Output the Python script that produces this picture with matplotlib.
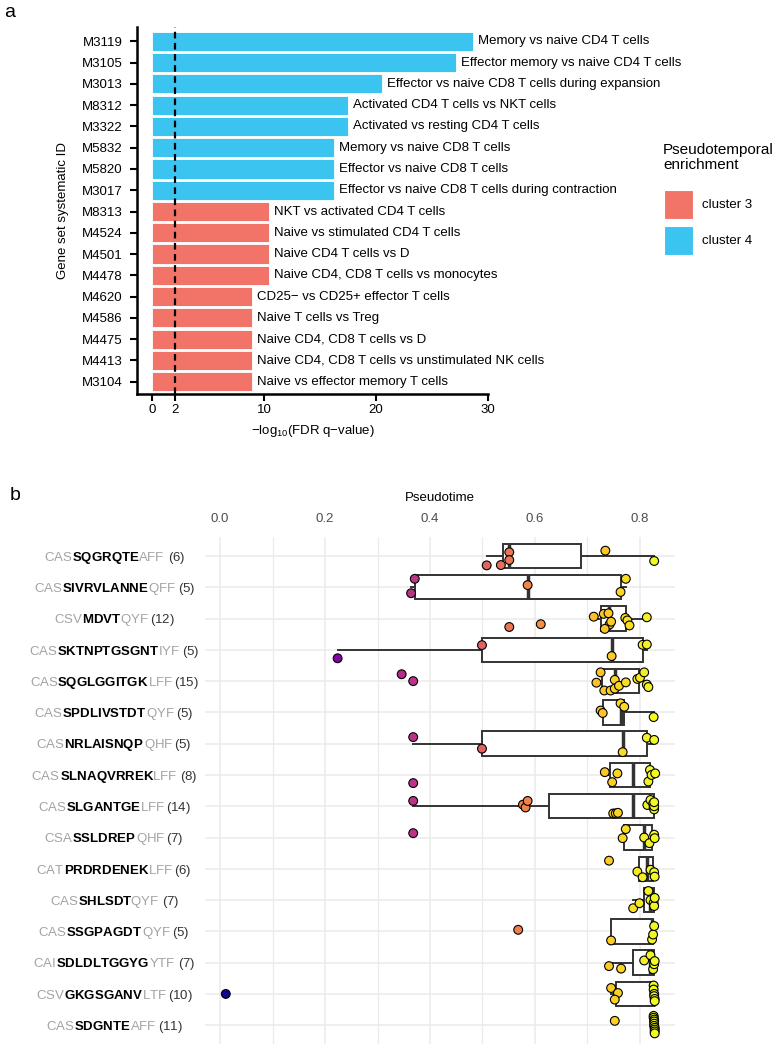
import matplotlib
matplotlib.use('Agg')
import matplotlib.pyplot as plt
import numpy as np
from matplotlib.patches import Rectangle
from matplotlib import transforms
from matplotlib.colors import Normalize
from matplotlib.mathtext import MathTextParser
from matplotlib.font_manager import FontProperties

plt.rcParams['font.family'] = ['Liberation Sans', 'DejaVu Sans']
plt.rcParams['mathtext.fontset'] = 'custom'
plt.rcParams['mathtext.rm'] = 'Liberation Sans'
plt.rcParams['mathtext.it'] = 'Liberation Sans:italic'
plt.rcParams['mathtext.bf'] = 'Liberation Sans:bold'
plt.rcParams['mathtext.default'] = 'regular'

# ---------------- Panel a data ----------------
gene_ids = ['M3119', 'M3105', 'M3013', 'M8312', 'M3322', 'M5832', 'M5820', 'M3017',
            'M8313', 'M4524', 'M4501', 'M4478', 'M4620', 'M4586', 'M4475', 'M4413', 'M3104']
neglog_fdr = [28.7, 27.1, 20.5, 17.5, 17.5, 16.2, 16.2, 16.2,
              10.45, 10.45, 10.45, 10.45, 8.93, 8.93, 8.93, 8.93, 8.93]
descriptions = ['Memory vs naive CD4 T cells',
                'Effector memory vs naive CD4 T cells',
                'Effector vs naive CD8 T cells during expansion',
                'Activated CD4 T cells vs NKT cells',
                'Activated vs resting CD4 T cells',
                'Memory vs naive CD8 T cells',
                'Effector vs naive CD8 T cells',
                'Effector vs naive CD8 T cells during contraction',
                'NKT vs activated CD4 T cells',
                'Naive vs stimulated CD4 T cells',
                'Naive CD4 T cells vs D',
                'Naive CD4, CD8 T cells vs monocytes',
                'CD25\u2212 vs CD25+ effector T cells',
                'Naive T cells vs Treg',
                'Naive CD4, CD8 T cells vs D',
                'Naive CD4, CD8 T cells vs unstimulated NK cells',
                'Naive vs effector memory T cells']
clusters = ['cluster 4'] * 8 + ['cluster 3'] * 9
legend_levels = ['cluster 3', 'cluster 4']
cluster_colors = {'cluster 3': '#F27468', 'cluster 4': '#3BC4F0'}
fdr_threshold = 2

# ---------------- Panel b data ----------------
cdr3_prefix = ['CAS', 'CAS', 'CSV', 'CAS', 'CAS', 'CAS', 'CAS', 'CAS',
               'CAS', 'CSA', 'CAT', 'CAS', 'CAS', 'CAI', 'CSV', 'CAS']
cdr3_core = ['SQGRQTE', 'SIVRVLANNE', 'MDVT', 'SKTNPTGSGNT', 'SQGLGGITGK', 'SPDLIVSTDT',
             'NRLAISNQP', 'SLNAQVRREK', 'SLGANTGE', 'SSLDREP', 'PRDRDENEK', 'SHLSDT',
             'SSGPAGDT', 'SDLDLTGGYG', 'GKGSGANV', 'SDGNTE']
cdr3_suffix = ['AFF', 'QFF', 'QYF', 'IYF', 'LFF', 'QYF', 'QHF', 'LFF',
               'LFF', 'QHF', 'LFF', 'QYF', 'QYF', 'YTF', 'LTF', 'AFF']
clone_counts = [6, 5, 12, 5, 15, 5, 5, 8, 14, 7, 6, 7, 5, 7, 10, 11]

pseudotime = [
    [0.551, 0.551, 0.508, 0.535, 0.734, 0.827],
    [0.371, 0.364, 0.586, 0.773, 0.763],
    [0.712, 0.731, 0.740, 0.742, 0.733, 0.772, 0.776, 0.780, 0.813, 0.745, 0.551, 0.611],
    [0.224, 0.499, 0.746, 0.805, 0.813],
    [0.346, 0.368, 0.717, 0.725, 0.732, 0.744, 0.752, 0.752, 0.760, 0.773, 0.795, 0.800, 0.808, 0.813, 0.816],
    [0.725, 0.729, 0.763, 0.770, 0.826],
    [0.368, 0.499, 0.767, 0.813, 0.827],
    [0.368, 0.733, 0.747, 0.757, 0.816, 0.819, 0.822, 0.829],
    [0.368, 0.577, 0.582, 0.586, 0.749, 0.754, 0.758, 0.814, 0.820, 0.825, 0.826, 0.827, 0.827, 0.827],
    [0.368, 0.767, 0.773, 0.808, 0.818, 0.827, 0.828],
    [0.741, 0.795, 0.805, 0.820, 0.827, 0.828],
    [0.787, 0.799, 0.816, 0.820, 0.826, 0.827, 0.828],
    [0.568, 0.745, 0.823, 0.825, 0.827],
    [0.741, 0.764, 0.808, 0.820, 0.825, 0.827, 0.828],
    [0.011, 0.745, 0.758, 0.752, 0.826, 0.826, 0.827, 0.827, 0.828, 0.828],
    [0.752, 0.826, 0.826, 0.827, 0.827, 0.827, 0.827, 0.828, 0.828, 0.828, 0.828],
]
jitter_offsets = [
    [-0.12, 0.13, 0.30, 0.29, -0.17, 0.16],
    [-0.27, 0.19, -0.07, -0.27, 0.15],
    [-0.06, -0.15, -0.17, 0.19, 0.33, -0.02, 0.06, 0.22, -0.04, 0.10, 0.27, 0.18],
    [0.27, -0.15, 0.20, -0.16, -0.17],
    [-0.22, 0.0, 0.05, -0.28, 0.30, 0.30, -0.04, 0.24, 0.15, 0.04, -0.07, -0.11, -0.28, 0.11, 0.19],
    [-0.06, 0.02, -0.29, -0.18, 0.15],
    [-0.21, 0.16, 0.27, -0.19, -0.12],
    [0.26, -0.09, 0.23, -0.05, 0.21, -0.16, 0.0, -0.05],
    [-0.17, -0.05, 0.04, -0.17, 0.23, 0.23, 0.21, -0.04, -0.20, -0.08, 0.04, 0.10, 0.0, -0.13],
    [-0.14, 0.02, -0.27, 0.0, 0.18, -0.09, 0.02],
    [-0.26, 0.09, 0.27, 0.03, 0.11, 0.25],
    [0.26, 0.10, -0.29, 0.0, 0.09, 0.19, -0.07],
    [-0.05, 0.29, 0.26, 0.10, -0.17],
    [0.11, 0.19, -0.07, -0.24, 0.21, 0.05, -0.05],
    [0.0, -0.19, -0.03, 0.18, -0.27, -0.14, 0.0, 0.07, 0.16, 0.23],
    [-0.14, -0.30, -0.24, -0.18, -0.12, -0.05, 0.02, 0.08, 0.14, 0.20, 0.26],
]
pt_ticks = [0.0, 0.2, 0.4, 0.6, 0.8]

# ---------------- Figure ----------------
W, H = 778, 1050
DPI = 100
fig = plt.figure(figsize=(W / DPI, H / DPI), dpi=DPI)


def px_box(l, t, r, b):
    return [l / W, 1 - b / H, (r - l) / W, (b - t) / H]


# ---------------- Panel a ----------------
axA = fig.add_axes(px_box(137, 27.3, 488, 394))
ypos = np.arange(len(gene_ids))
bar_colors = [cluster_colors[c] for c in clusters]
axA.barh(ypos, neglog_fdr, height=0.9, color=bar_colors, edgecolor='white', linewidth=0.6)
axA.axvline(fdr_threshold, color='black', linestyle=(0, (3, 2)), linewidth=1.6, zorder=3)
for y, v, d in zip(ypos, neglog_fdr, descriptions):
    axA.annotate(d, (v, y), xytext=(3.6, 0), textcoords='offset points',
                 va='center', ha='left', fontsize=9.5, color='black', annotation_clip=False)
axA.set_xlim(-1.37, 30)
axA.set_ylim(len(gene_ids) - 1 + 0.58, -0.66)
axA.set_yticks(ypos)
axA.set_yticklabels(gene_ids)
axA.set_xticks([0, 2, 10, 20, 30])
axA.set_xticklabels(['0', '2', '10', '20', '30'])
for s in ['top', 'right']:
    axA.spines[s].set_visible(False)
for s in ['left', 'bottom']:
    axA.spines[s].set_linewidth(1.8)
axA.tick_params(axis='both', length=5, width=1.5, labelsize=9.5, colors='black')
axA.tick_params(axis='y', pad=5.5)
axA.tick_params(axis='x', pad=2.5)
axA.set_ylabel('Gene set systematic ID', fontsize=9.5, labelpad=9)
axA.set_xlabel('\u2212log$_{10}$(FDR q\u2212value)', fontsize=9.5, labelpad=5)

# legend (manual, ggplot-like keys)
fig.text(663 / W, 1 - 143 / H, 'Pseudotemporal\nenrichment', fontsize=11,
         va='top', ha='left', linespacing=1.1)
key_tops = [190, 226]
for lvl, kt in zip(legend_levels, key_tops):
    fig.add_artist(Rectangle((664 / W, 1 - (kt + 29) / H), 29 / W, 29 / H,
                             transform=fig.transFigure, facecolor=cluster_colors[lvl],
                             edgecolor='white', linewidth=0.8))
    fig.text(702 / W, 1 - (kt + 14.5) / H, lvl, fontsize=9.5, va='center', ha='left')

fig.text(4 / W, 1 - 17 / H, 'a', fontsize=14, va='baseline', ha='left')
fig.text(10 / W, 1 - 500 / H, 'b', fontsize=14, va='baseline', ha='left')

# ---------------- Panel b ----------------
axB = fig.add_axes(px_box(205, 537, 675, 1044))
nrow = len(cdr3_core)
rows = np.arange(nrow)

edge = '#333333'
axB.boxplot(pseudotime, positions=rows, orientation='horizontal', widths=0.78,
            showfliers=False, showcaps=False, patch_artist=True, manage_ticks=False,
            boxprops=dict(facecolor='white', edgecolor=edge, linewidth=1.4),
            medianprops=dict(color=edge, linewidth=2.5),
            whiskerprops=dict(color=edge, linewidth=1.4))

all_vals = np.concatenate([np.array(v) for v in pseudotime])
norm = Normalize(vmin=all_vals.min(), vmax=all_vals.max())
for i, (vals, offs) in enumerate(zip(pseudotime, jitter_offsets)):
    vals = np.array(vals)
    ys = i + np.array(offs)
    axB.scatter(vals, ys, c=vals, cmap='plasma', norm=norm, s=40,
                edgecolors='black', linewidths=0.8, zorder=4)

axB.set_xlim(-0.0286, 0.8667)
axB.set_ylim(nrow - 1 + 0.6, -0.607)
axB.set_axisbelow(True)
axB.set_xticks(pt_ticks)
axB.set_xticklabels(['%.1f' % t for t in pt_ticks])
axB.set_xticks([0.1, 0.3, 0.5, 0.7], minor=True)
axB.set_yticks(rows)
axB.set_yticklabels([''] * nrow)
axB.xaxis.tick_top()
axB.xaxis.set_label_position('top')
axB.set_xlabel('Pseudotime', fontsize=9.5, labelpad=8)
axB.tick_params(axis='x', which='both', length=0, pad=9, labelsize=9.5, labelcolor='#4d4d4d')
axB.tick_params(axis='y', length=0)
axB.grid(True, which='major', axis='both', color='#ebebeb', linewidth=1.1)
axB.grid(True, which='minor', axis='x', color='#ebebeb', linewidth=0.9)
for s in axB.spines.values():
    s.set_visible(False)

# multi-coloured CDR3 labels: mathtext segments placed by their advance widths,
# centred at x = 114 px
LABEL_FS = 9.5
trans = transforms.blended_transform_factory(fig.transFigure, axB.transData)
trans = transforms.offset_copy(trans, fig=fig, y=-3.4, units='points')
mparser = MathTextParser('path')
mprop = FontProperties(size=LABEL_FS)
space_px = 3.0
for i in range(nrow):
    segs = [(r'$\mathrm{%s}$' % cdr3_prefix[i], '#a3a3a3'),
            (r'$\mathbf{%s}$' % cdr3_core[i], 'black'),
            (r'$\mathrm{%s}$' % cdr3_suffix[i], '#a3a3a3'),
            (r'$\mathrm{(%d)}$' % clone_counts[i], '#333333')]
    widths = [mparser.parse(s, dpi=DPI, prop=mprop).width for s, _ in segs]
    gaps = [0, 0, 0, space_px]
    total = sum(widths) + sum(gaps)
    x = 114 - total / 2
    for (s, c), w, g in zip(segs, widths, gaps):
        x += g
        axB.text(x / W, i, s, transform=trans, color=c, fontsize=LABEL_FS,
                 va='baseline', ha='left', clip_on=False)
        x += w

fig.savefig('out.png', dpi=DPI)
